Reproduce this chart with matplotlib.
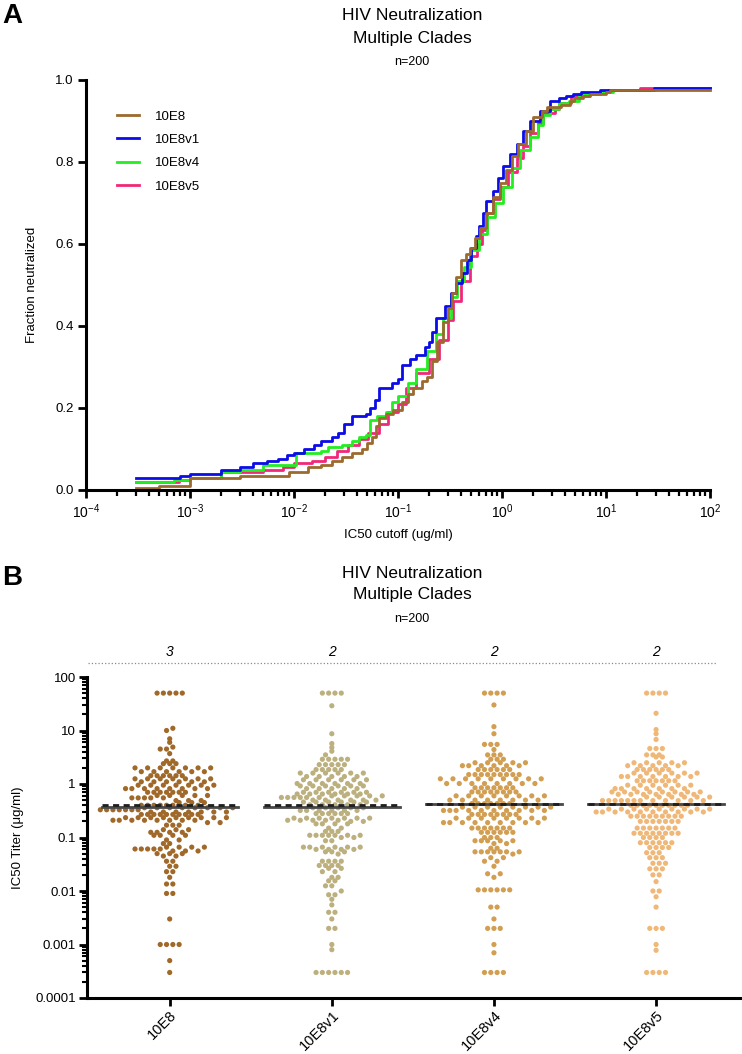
import numpy as np
import matplotlib
matplotlib.use("Agg")
import matplotlib.pyplot as plt
from matplotlib.ticker import LogLocator, NullFormatter

plt.rcParams['font.family'] = ['Liberation Sans', 'DejaVu Sans']
plt.rcParams['mathtext.fontset'] = 'custom'
plt.rcParams['mathtext.rm'] = 'Liberation Sans'
plt.rcParams['mathtext.it'] = 'Liberation Sans:italic'
plt.rcParams['mathtext.default'] = 'regular'

# --- DATA ---
antibodies = ["10E8", "10E8v1", "10E8v4", "10E8v5"]
n_viruses = 200
cap_value = 50  # IC50 > 50 ug/ml is plotted at 50 (not neutralized)

# IC50 (ug/ml): value + number of viruses at that value
ic50_10e8 = [0.0003, 0.0005, 0.001, 0.003, 0.009, 0.0135, 0.018, 0.023, 0.029, 0.036,
             0.045, 0.05, 0.056, 0.061, 0.066, 0.077, 0.09, 0.11, 0.125, 0.14, 0.17, 0.19,
             0.21, 0.235, 0.27, 0.3, 0.33, 0.36, 0.4, 0.45, 0.49, 0.55, 0.61, 0.7, 0.82,
             0.95, 1.1, 1.25, 1.43, 1.7, 2.0, 2.4, 2.7, 3.7, 4.5, 4.9, 6, 7, 10, 11, 50]
n_10e8 = [1, 1, 4, 1, 2, 2, 1, 2, 2, 2,
          2, 3, 3, 5, 4, 2, 2, 4, 4, 3, 3, 2,
          8, 9, 10, 7, 7, 8, 8, 3, 3, 5, 5, 7, 8,
          7, 6, 7, 6, 6, 7, 3, 2, 1, 2, 1, 1, 1, 1, 1, 5]

ic50_10e8v1 = [0.0003, 0.0008, 0.001, 0.002, 0.003, 0.004, 0.0055, 0.007, 0.0085, 0.01,
               0.0125, 0.0155, 0.018, 0.023, 0.0265, 0.03, 0.036, 0.049, 0.054, 0.06,
               0.066, 0.087, 0.1, 0.11, 0.13, 0.15, 0.18, 0.2, 0.21, 0.23, 0.28, 0.32,
               0.36, 0.41, 0.46, 0.5, 0.56, 0.6, 0.65, 0.7, 0.82, 0.92, 1.02, 1.2, 1.38,
               1.6, 1.86, 2.3, 2.9, 3.5, 4.1, 4.8, 5.7, 8.7, 29, 50]
n_10e8v1 = [6, 1, 1, 2, 1, 2, 1, 1, 2, 1,
            2, 2, 2, 2, 2, 4, 4, 1, 3, 4,
            6, 2, 2, 7, 3, 2, 4, 2, 5, 7, 6, 6,
            5, 5, 6, 6, 6, 5, 6, 6, 5, 6, 6, 6, 5,
            6, 5, 5, 5, 1, 1, 1, 1, 1, 1, 4]

ic50_10e8v4 = [0.0003, 0.0007, 0.001, 0.002, 0.003, 0.005, 0.0105, 0.018, 0.021, 0.029,
               0.036, 0.042, 0.049, 0.054, 0.063, 0.077, 0.087, 0.1, 0.125, 0.15, 0.19,
               0.23, 0.27, 0.32, 0.37, 0.43, 0.5, 0.6, 0.71, 0.85, 1.02, 1.25, 1.5, 1.86,
               2.2, 2.5, 2.9, 3.5, 4.4, 5.5, 8.7, 11.8, 30, 50]
n_10e8v4 = [4, 1, 1, 3, 1, 2, 6, 1, 2, 1,
            2, 2, 1, 7, 2, 2, 5, 3, 6, 7, 9,
            8, 8, 10, 8, 7, 8, 8, 8, 7, 8, 9, 9, 6,
            6, 5, 3, 3, 1, 3, 1, 1, 1, 4]

ic50_10e8v5 = [0.0003, 0.00078, 0.001, 0.002, 0.005, 0.0078, 0.01, 0.015, 0.02, 0.026,
               0.033, 0.042, 0.052, 0.065, 0.08, 0.1, 0.12, 0.15, 0.2, 0.25, 0.3, 0.34,
               0.4, 0.49, 0.57, 0.64, 0.71, 0.82, 0.95, 1.15, 1.38, 1.6, 1.86, 2.2, 2.5,
               3.2, 3.5, 4.6, 6.8, 8.7, 10.4, 21, 50]
n_10e8v5 = [4, 1, 1, 3, 1, 1, 2, 1, 2, 3,
            3, 3, 3, 4, 6, 4, 8, 7, 7, 9, 10, 9,
            10, 12, 6, 7, 8, 7, 6, 7, 7, 6, 6, 5, 5,
            2, 3, 3, 1, 1, 1, 1, 4]

median_solid = [0.37, 0.375, 0.42, 0.42]
median_dashed = [0.41, 0.41, 0.43, 0.43]
n_top = ["3", "2", "2", "2"]

curve_colors = ["#9c6a2e", "#0c0ce6", "#22ee22", "#f0287a"]
dot_colors = ["#a0692a", "#bdb07f", "#d29e52", "#f0b878"]

all_ic50 = [ic50_10e8, ic50_10e8v1, ic50_10e8v4, ic50_10e8v5]
all_n = [n_10e8, n_10e8v1, n_10e8v4, n_10e8v5]


def swarm(values, counts, px_dec=53.5, px_cat=162.0, row_h=5.6, d=6.3):
    # GraphPad-like scatter: dots binned into rows of one dot height, each row centred,
    # touching rows with the same parity get a half-dot stagger
    vals = np.sort(np.repeat(values, counts))
    rows = np.floor(np.log10(vals) * px_dec / row_h).astype(int)
    xs = np.zeros(len(vals))
    prev_r, prev_phase, flip = None, None, 1
    for r in np.unique(rows):
        idx = np.where(rows == r)[0]
        n = len(idx)
        phase = 0.0 if n % 2 else 0.5
        shift = 0.0
        if prev_r is not None and r - prev_r == 1 and phase == prev_phase and n > 1:
            shift = 0.5 * flip
            flip = -flip
            phase = 0.5 - phase
        order = sorted(range(n), key=lambda k: (abs(k - (n - 1) / 2), k))
        pos = np.arange(n) - (n - 1) / 2 + shift
        xs[idx] = pos[np.argsort(order)] * d / px_cat
        prev_r, prev_phase = r, phase
    return xs, vals


fig = plt.figure(figsize=(7.42, 10.54), dpi=100)
W, H = 742.0, 1054.0

# ---------------- Panel A ----------------
ax1 = fig.add_axes([86 / W, 1 - 490 / H, (710 - 86) / W, 410 / H])
lines = {}
for i in [3, 2, 1, 0]:
    vals = np.repeat(all_ic50[i], all_n[i])
    vals = np.sort(vals[vals < cap_value])
    uniq, cnt = np.unique(vals, return_counts=True)
    frac = np.cumsum(cnt) / n_viruses
    x = np.r_[uniq, 100]
    y = np.r_[frac, frac[-1]]
    ln, = ax1.step(x, y, where='post', color=curve_colors[i], lw=2.0, clip_on=False)
    lines[i] = ln

ax1.set_xscale('log')
ax1.set_xlim(1e-4, 1e2)
ax1.set_ylim(0, 1.0)
ax1.set_xticks([1e-4, 1e-3, 1e-2, 1e-1, 1e0, 1e1, 1e2])
ax1.set_xticklabels([r'$10^{-4}$', r'$10^{-3}$', r'$10^{-2}$', r'$10^{-1}$',
                     r'$10^{0}$', r'$10^{1}$', r'$10^{2}$'], fontsize=10)
ax1.xaxis.set_minor_locator(LogLocator(base=10, subs=np.arange(2, 10), numticks=20))
ax1.xaxis.set_minor_formatter(NullFormatter())
ax1.set_yticks([0, 0.2, 0.4, 0.6, 0.8, 1.0])
ax1.set_yticklabels(["0.0", "0.2", "0.4", "0.6", "0.8", "1.0"], fontsize=9.5)
for s in ['top', 'right']:
    ax1.spines[s].set_visible(False)
for s in ['left', 'bottom']:
    ax1.spines[s].set_linewidth(2.2)
ax1.tick_params(which='major', length=6, width=2, pad=3)
ax1.tick_params(axis='x', which='minor', length=4, width=1.6)
ax1.set_xlabel("IC50 cutoff (ug/ml)", fontsize=9.5, labelpad=6)
ax1.set_ylabel("Fraction neutralized", fontsize=9.5, labelpad=12)
ax1.legend([lines[i] for i in range(4)], antibodies, loc='upper left',
           bbox_to_anchor=(0.03, 0.955), frameon=False, fontsize=9.5,
           handlelength=1.7, labelspacing=0.85, handletextpad=1.2)

fig.text(12 / W, 1 - 16 / H, "A", fontsize=20, fontweight='bold', ha='center', va='center')
fig.text(412 / W, 1 - 16 / H, "HIV Neutralization", fontsize=12.5, ha='center', va='center')
fig.text(412 / W, 1 - 38 / H, "Multiple Clades", fontsize=12.5, ha='center', va='center')
fig.text(412 / W, 1 - 62 / H, "n=200", fontsize=9, ha='center', va='center')

# ---------------- Panel B ----------------
ax2 = fig.add_axes([87 / W, 1 - 998 / H, (742 - 87) / W, (998 - 677) / H])
for i in range(4):
    dx, dy = swarm(all_ic50[i], all_n[i])
    ax2.scatter(i + dx, dy, s=14, color=dot_colors[i], edgecolors='none', zorder=2)
    ax2.plot([i - 0.42, i + 0.42], [median_solid[i]] * 2, color='#484848', lw=2, zorder=3)
    ax2.plot([i - 0.42, i + 0.42], [median_dashed[i]] * 2, color='#1e1e1e', lw=2,
             dashes=(2.2, 1.6), zorder=3)
    ax2.text(i, 1.078, n_top[i], transform=ax2.get_xaxis_transform(), fontsize=10,
             style='italic', ha='center', va='center')

ax2.plot([0.0015, 0.96], [1.0436, 1.0436], transform=ax2.transAxes, color='#8a8a8a',
         lw=0.9, ls=':', clip_on=False)

ax2.set_yscale('log')
ax2.set_ylim(1e-4, 100)
ax2.set_xlim(-0.51, 3.53)
ax2.set_yticks([1e-4, 1e-3, 1e-2, 1e-1, 1, 10, 100])
ax2.set_yticklabels(["0.0001", "0.001", "0.01", "0.1", "1", "10", "100"], fontsize=9.5)
ax2.yaxis.set_minor_locator(LogLocator(base=10, subs=np.arange(2, 10), numticks=20))
ax2.yaxis.set_minor_formatter(NullFormatter())
ax2.set_xticks(range(4))
ax2.set_xticklabels(antibodies, rotation=45, ha='right', rotation_mode='anchor', fontsize=10.5)
for s in ['top', 'right']:
    ax2.spines[s].set_visible(False)
for s in ['left', 'bottom']:
    ax2.spines[s].set_linewidth(2.2)
ax2.tick_params(which='major', length=6, width=2, pad=2)
ax2.tick_params(axis='y', which='minor', length=3.5, width=1.5)
ax2.tick_params(axis='x', pad=1)
ax2.set_ylabel("IC50 Titer (\u03bcg/ml)", fontsize=9.5, labelpad=8)

fig.text(12 / W, 1 - 578 / H, "B", fontsize=20, fontweight='bold', ha='center', va='center')
fig.text(412 / W, 1 - 573 / H, "HIV Neutralization", fontsize=12.5, ha='center', va='center')
fig.text(412 / W, 1 - 595 / H, "Multiple Clades", fontsize=12.5, ha='center', va='center')
fig.text(412 / W, 1 - 619 / H, "n=200", fontsize=9, ha='center', va='center')

fig.savefig("out.png", dpi=100)
